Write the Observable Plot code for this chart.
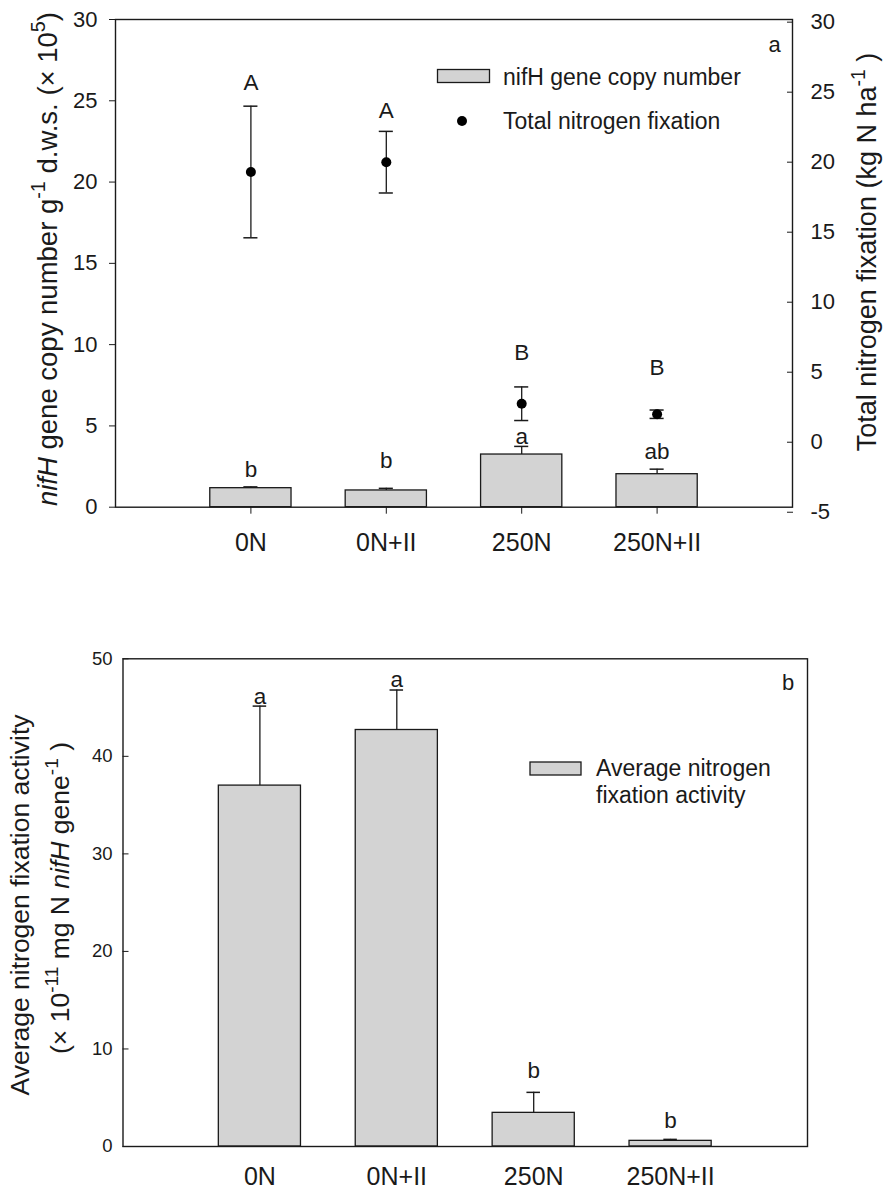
<!DOCTYPE html>
<html>
<head>
<meta charset="utf-8">
<script src="https://cdn.jsdelivr.net/npm/d3@7"></script>
<script src="https://cdn.jsdelivr.net/npm/@observablehq/plot@0.6"></script>
<style>
  html, body { margin: 0; padding: 0; background: #fff; }
  #wrap { position: relative; width: 894px; height: 1189px; overflow: hidden; font-family: "Liberation Sans", Arial, sans-serif; }
  #top, #bottom { position: absolute; left: 0; }
  #top { top: 0; }
  #bottom { top: 590px; }
  #overlay { position: absolute; left: 0; top: 0; pointer-events: none; }
</style>
</head>
<body>
<div id="wrap">
  <div id="top"></div>
  <div id="bottom"></div>
  <svg id="overlay" width="894" height="1189"></svg>
</div>
<script>
// ---------------- data ----------------
const categories = ["0N", "0N+II", "250N", "250N+II"];

// panel a: nifH gene copy number (left axis, × 10^5)
const nifhMean = [1.17, 1.03, 3.24, 2.03];
const nifhSE = [0.08, 0.13, 0.5, 0.31];
const nifhLetters = ["b", "b", "a", "ab"];
const nifhLetterY = [2.32, 2.87, 4.3, 3.43];

// panel a: total nitrogen fixation (right axis, kg N ha-1)
const fixMean = [19.3, 20.0, 2.75, 2.0];
const fixSE = [4.7, 2.2, 1.2, 0.3];
const fixLetters = ["A", "A", "B", "B"];
const fixLetterY = [25.7, 23.7, 6.4, 5.3];

// panel b: average nitrogen fixation activity
const activityMean = [37.0, 42.7, 3.45, 0.58];
const activitySE = [8.15, 4.1, 2.1, 0.15];
const activityLetters = ["a", "a", "b", "b"];
const activityLetterY = [46.1, 47.8, 7.8, 2.67];

// axes
const leftTicksA = [0, 5, 10, 15, 20, 25, 30];
const rightTicksA = [-5, 0, 5, 10, 15, 20, 25, 30];
const leftDomainA = [0, 30];
const rightDomainA = [-4.64, 30.19]; // right-axis values spanning the same frame
const ticksB = [0, 10, 20, 30, 40, 50];
const domainB = [0, 50];
const xDomain = [0, 5];

// ---------------- helpers ----------------
const toLeft = d3.scaleLinear().domain(rightDomainA).range(leftDomainA);
const barHalf = 0.3, capHalf = 0.052;
const ink = "#1a1a1a", barFill = "#d3d3d3";
const font = "'Liberation Sans', Arial, Helvetica, sans-serif";

const topBars = categories.map((c, i) => ({c, x: i + 1, v: nifhMean[i], hi: nifhMean[i] + nifhSE[i], letter: nifhLetters[i], ly: nifhLetterY[i]}));
const topDots = categories.map((c, i) => ({c, x: i + 1, v: toLeft(fixMean[i]), lo: toLeft(fixMean[i] - fixSE[i]), hi: toLeft(fixMean[i] + fixSE[i]), letter: fixLetters[i], ly: toLeft(fixLetterY[i])}));
const botBars = categories.map((c, i) => ({c, x: i + 1, v: activityMean[i], hi: activityMean[i] + activitySE[i], letter: activityLetters[i], ly: activityLetterY[i]}));

const topPlot = Plot.plot({
  width: 894, height: 590,
  marginTop: 19, marginBottom: 83.3, marginLeft: 115, marginRight: 102,
  x: {domain: xDomain},
  y: {domain: leftDomainA},
  style: {fontFamily: font, fontSize: "21px", color: ink, background: "white", overflow: "visible"},
  marks: [
    Plot.rectY(topBars, {x1: d => d.x - barHalf, x2: d => d.x + barHalf, y1: 0, y2: "v", fill: barFill, stroke: ink, strokeWidth: 1.3}),
    Plot.ruleX(topBars, {x: "x", y1: "v", y2: "hi", stroke: ink, strokeWidth: 1.3}),
    Plot.ruleY(topBars, {y: "hi", x1: d => d.x - capHalf, x2: d => d.x + capHalf, stroke: ink, strokeWidth: 1.5}),
    Plot.ruleX(topDots, {x: "x", y1: "lo", y2: "hi", stroke: ink, strokeWidth: 1.3}),
    Plot.ruleY(topDots, {y: "hi", x1: d => d.x - capHalf, x2: d => d.x + capHalf, stroke: ink, strokeWidth: 1.5}),
    Plot.ruleY(topDots, {y: "lo", x1: d => d.x - capHalf, x2: d => d.x + capHalf, stroke: ink, strokeWidth: 1.5}),
    Plot.dot(topDots, {x: "x", y: "v", r: 5, fill: "black", stroke: "none"}),
    Plot.text(topBars, {x: "x", y: "ly", text: "letter", fontSize: 22.5, fill: ink}),
    Plot.text(topDots, {x: "x", y: "ly", text: "letter", fontSize: 22.5, fill: ink}),
    Plot.frame({stroke: ink, strokeWidth: 1.4}),
    Plot.axisY({anchor: "left", ticks: leftTicksA, tickSize: 6, tickPadding: 12, fontSize: 22, label: null}),
    Plot.axisY({anchor: "right", ticks: rightTicksA.map(toLeft), tickFormat: v => String(Math.round(toLeft.invert(v))), tickSize: -6, tickPadding: 24, fontSize: 22, label: null}),
    Plot.axisX({ticks: [1, 2, 3, 4], tickFormat: v => categories[v - 1], tickSize: 7, tickPadding: 19, fontSize: 25, label: null})
  ]
});
document.getElementById("top").appendChild(topPlot);

const botPlot = Plot.plot({
  width: 894, height: 599,
  marginTop: 68.3, marginBottom: 43, marginLeft: 122.5, marginRight: 87,
  x: {domain: xDomain},
  y: {domain: domainB},
  style: {fontFamily: font, fontSize: "18px", color: ink, background: "white", overflow: "visible"},
  marks: [
    Plot.rectY(botBars, {x1: d => d.x - barHalf, x2: d => d.x + barHalf, y1: 0, y2: "v", fill: barFill, stroke: ink, strokeWidth: 1.3}),
    Plot.ruleX(botBars, {x: "x", y1: "v", y2: "hi", stroke: ink, strokeWidth: 1.3}),
    Plot.ruleY(botBars, {y: "hi", x1: d => d.x - capHalf * 0.95, x2: d => d.x + capHalf * 0.95, stroke: ink, strokeWidth: 1.5}),
    Plot.text(botBars, {x: "x", y: "ly", text: "letter", fontSize: 22.5, fill: ink}),
    Plot.frame({stroke: ink, strokeWidth: 1.4}),
    Plot.axisY({anchor: "left", ticks: ticksB, tickSize: -6, tickPadding: 16.5, fontSize: 18.5, label: null}),
    Plot.axisX({ticks: [1, 2, 3, 4], tickFormat: v => categories[v - 1], tickSize: 0, tickPadding: 21, fontSize: 25, label: null})
  ]
});
document.getElementById("bottom").appendChild(botPlot);

// ---------------- overlay: axis titles, legends, panel labels ----------------
const ov = d3.select("#overlay").style("font-family", font).attr("fill", ink);

function richText(g, segs, size) {
  const t = g.append("text").attr("font-size", size).attr("text-anchor", "middle");
  let shift = 0;
  segs.forEach(s => {
    const sp = t.append("tspan").text(s.t);
    if (s.i) sp.attr("font-style", "italic");
    if (s.sup) {
      sp.attr("font-size", size * 0.72).attr("dy", -size * 0.42);
      shift = size * 0.42;
    } else if (shift) {
      sp.attr("dy", shift);
      shift = 0;
    }
  });
  return t;
}

// left title, panel a
richText(ov.append("g").attr("transform", "translate(57,259) rotate(-90)"), [
  {t: "nifH", i: true}, {t: " gene copy number g"}, {t: "-1", sup: true}, {t: " d.w.s. (×  10"}, {t: "5", sup: true}, {t: ")"}
], 27.5);

// right title, panel a
richText(ov.append("g").attr("transform", "translate(876,252) rotate(-90)"), [
  {t: "Total nitrogen fixation (kg N ha"}, {t: "-1", sup: true}, {t: " )"}
], 27);

// left title, panel b (two lines)
richText(ov.append("g").attr("transform", "translate(29,905) rotate(-90)"), [
  {t: "Average nitrogen fixation activity"}
], 26.5);
richText(ov.append("g").attr("transform", "translate(69,898) rotate(-90)"), [
  {t: "(×  10"}, {t: "-11", sup: true}, {t: "  mg N "}, {t: "nifH", i: true}, {t: " gene"}, {t: "-1", sup: true}, {t: " )"}
], 26.5);

// panel labels
ov.append("text").attr("x", 774.5).attr("y", 52).attr("font-size", 22).attr("text-anchor", "middle").text("a");
ov.append("text").attr("x", 788).attr("y", 690).attr("font-size", 22).attr("text-anchor", "middle").text("b");

// legend panel a
ov.append("rect").attr("x", 437.5).attr("y", 69.5).attr("width", 52).attr("height", 13).attr("fill", barFill).attr("stroke", ink).attr("stroke-width", 1.3);
ov.append("text").attr("x", 503).attr("y", 77).attr("dy", "0.35em").attr("font-size", 23).text("nifH gene copy number");
ov.append("circle").attr("cx", 462).attr("cy", 121).attr("r", 5).attr("fill", "black");
ov.append("text").attr("x", 503).attr("y", 121).attr("dy", "0.35em").attr("font-size", 23).text("Total nitrogen fixation");

// legend panel b
ov.append("rect").attr("x", 530).attr("y", 762).attr("width", 51).attr("height", 13).attr("fill", barFill).attr("stroke", ink).attr("stroke-width", 1.3);
ov.append("text").attr("x", 596).attr("y", 768).attr("dy", "0.35em").attr("font-size", 23).text("Average nitrogen");
ov.append("text").attr("x", 596).attr("y", 795).attr("dy", "0.35em").attr("font-size", 23).text("fixation activity");
</script>
</body>
</html>
